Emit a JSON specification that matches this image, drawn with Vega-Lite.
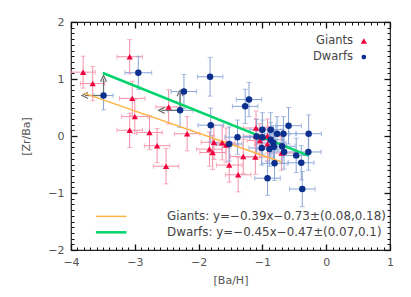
{
  "$schema": "https://vega.github.io/schema/vega-lite/v6.json",
  "width": 319,
  "height": 228,
  "autosize": {"type": "none"},
  "padding": {"left": 71, "top": 22, "right": 21, "bottom": 47},
  "config": {"view": {"stroke": "#222", "strokeWidth": 1.2}, "font": "DejaVu Sans"},
  "datasets": {
    "giants": [
      {"x": -3.81, "y": 1.12, "xe": 0.19, "ye": 0.28},
      {"x": -3.66, "y": 0.92, "xe": 0.19, "ye": 0.3},
      {"x": -3.08, "y": 1.39, "xe": 0.2, "ye": 0.3},
      {"x": -3.04, "y": 0.66, "xe": 0.2, "ye": 0.3},
      {"x": -3.0, "y": 0.34, "xe": 0.21, "ye": 0.3},
      {"x": -3.08, "y": 0.1, "xe": 0.2, "ye": 0.3},
      {"x": -2.77, "y": 0.06, "xe": 0.2, "ye": 0.3},
      {"x": -2.65, "y": -0.17, "xe": 0.2, "ye": 0.3},
      {"x": -2.51, "y": -0.53, "xe": 0.2, "ye": 0.31},
      {"x": -2.47, "y": 0.51, "xe": 0.2, "ye": 0.3},
      {"x": -2.18, "y": 0.04, "xe": 0.2, "ye": 0.3},
      {"x": -1.76, "y": -0.11, "xe": 0.2, "ye": 0.3},
      {"x": -1.83, "y": -0.23, "xe": 0.2, "ye": 0.3},
      {"x": -1.78, "y": -0.29, "xe": 0.2, "ye": 0.3},
      {"x": -1.63, "y": -0.12, "xe": 0.2, "ye": 0.3},
      {"x": -1.57, "y": -0.16, "xe": 0.2, "ye": 0.3},
      {"x": -1.52, "y": -0.51, "xe": 0.2, "ye": 0.3},
      {"x": -1.38, "y": -0.68, "xe": 0.2, "ye": 0.3},
      {"x": -1.3, "y": -0.36, "xe": 0.2, "ye": 0.3},
      {"x": -1.11, "y": -0.37, "xe": 0.2, "ye": 0.3},
      {"x": -1.04, "y": -0.08, "xe": 0.2, "ye": 0.3},
      {"x": -0.92, "y": 0.0, "xe": 0.2, "ye": 0.3},
      {"x": -1.1, "y": 0.14, "xe": 0.2, "ye": 0.3},
      {"x": -0.7, "y": -0.3, "xe": 0.2, "ye": 0.3},
      {"x": -0.92, "y": -0.14, "xe": 0.2, "ye": 0.3},
      {"x": -1.1, "y": 0.0, "xe": 0.2, "ye": 0.3}
    ],
    "dwarfs": [
      {"x": -3.49, "y": 0.71, "xe": 0.15, "ye": 0.25},
      {"x": -2.945, "y": 1.11, "xe": 0.21, "ye": 0.29},
      {"x": -2.23, "y": 0.78, "xe": 0.2, "ye": 0.3},
      {"x": -2.29, "y": 0.45, "xe": 0.2, "ye": 0.3},
      {"x": -1.82, "y": 1.04, "xe": 0.2, "ye": 0.34},
      {"x": -1.81, "y": 0.19, "xe": 0.2, "ye": 0.3},
      {"x": -1.52, "y": -0.14, "xe": 0.2, "ye": 0.3},
      {"x": -1.39, "y": -0.02, "xe": 0.2, "ye": 0.3},
      {"x": -1.21, "y": 0.64, "xe": 0.2, "ye": 0.3},
      {"x": -1.27, "y": 0.52, "xe": 0.2, "ye": 0.3},
      {"x": -0.59, "y": 0.18, "xe": 0.2, "ye": 0.32},
      {"x": -0.275, "y": 0.04, "xe": 0.2, "ye": 0.33},
      {"x": -0.28, "y": -0.28, "xe": 0.2, "ye": 0.32},
      {"x": -0.47, "y": -0.34, "xe": 0.2, "ye": 0.3},
      {"x": -0.39, "y": -0.47, "xe": 0.2, "ye": 0.3},
      {"x": -0.81, "y": -0.48, "xe": 0.2, "ye": 0.3},
      {"x": -0.92, "y": -0.74, "xe": 0.2, "ye": 0.3},
      {"x": -0.375, "y": -0.93, "xe": 0.2, "ye": 0.31},
      {"x": -1.0, "y": 0.11, "xe": 0.2, "ye": 0.3},
      {"x": -0.87, "y": 0.11, "xe": 0.2, "ye": 0.3},
      {"x": -0.77, "y": 0.04, "xe": 0.2, "ye": 0.3},
      {"x": -0.67, "y": 0.04, "xe": 0.2, "ye": 0.3},
      {"x": -0.66, "y": -0.28, "xe": 0.2, "ye": 0.3},
      {"x": -0.69, "y": -0.18, "xe": 0.2, "ye": 0.3},
      {"x": -0.82, "y": -0.19, "xe": 0.2, "ye": 0.3},
      {"x": -0.89, "y": -0.23, "xe": 0.2, "ye": 0.3},
      {"x": -0.83, "y": -0.12, "xe": 0.2, "ye": 0.3},
      {"x": -0.87, "y": -0.065, "xe": 0.2, "ye": 0.3},
      {"x": -1.09, "y": -0.01, "xe": 0.2, "ye": 0.3},
      {"x": -1.0, "y": -0.02, "xe": 0.2, "ye": 0.3},
      {"x": -1.01, "y": -0.21, "xe": 0.2, "ye": 0.3}
    ],
    "arrows": [
      {"x": -3.49, "y": 0.71, "x2": -3.49, "y2": 1.01, "dir": "up"},
      {"x": -3.49, "y": 0.71, "x2": -3.78, "y2": 0.71, "dir": "left"},
      {"x": -2.29, "y": 0.45, "x2": -2.29, "y2": 0.75, "dir": "up"},
      {"x": -2.29, "y": 0.45, "x2": -2.58, "y2": 0.45, "dir": "left"}
    ],
    "fits": [
      {"s": "Giants", "x": -3.8, "y": 0.752, "x2": -0.7, "y2": -0.457},
      {"s": "Dwarfs", "x": -3.5, "y": 1.105, "x2": -0.28, "y2": -0.344}
    ],
    "legendlines": [
      {"s": "Giants", "x": -3.61, "x2": -3.13, "y": -1.41},
      {"s": "Dwarfs", "x": -3.61, "x2": -3.13, "y": -1.69}
    ],
    "texts": [
      {"x": 0.42, "y": 1.66, "t": "Giants", "a": "right"},
      {"x": 0.42, "y": 1.385, "t": "Dwarfs", "a": "right"},
      {"x": -2.495, "y": -1.41, "t": "Giants: y=−0.39x−0.73±(0.08,0.18)", "a": "left"},
      {"x": -2.495, "y": -1.69, "t": "Dwarfs: y=−0.45x−0.47±(0.07,0.1)", "a": "left"}
    ],
    "legendsym": [
      {"x": 0.59, "y": 1.665, "s": "Giants"},
      {"x": 0.59, "y": 1.385, "s": "Dwarfs"}
    ]
  },
  "layer": [
    {
      "data": {"name": "giants"},
      "mark": {"type": "errorbar", "ticks": {"size": 5}, "color": "#f590a8", "thickness": 1},
      "encoding": {
        "x": {"field": "x", "type": "quantitative", "scale": {"domain": [-4, 1], "nice": false, "zero": false}, "axis": null},
        "y": {"field": "y", "type": "quantitative", "scale": {"domain": [-2, 2], "nice": false, "zero": false}, "axis": null},
        "yError": {"field": "ye"}
      }
    },
    {
      "data": {"name": "giants"},
      "mark": {"type": "errorbar", "ticks": {"size": 5}, "color": "#f590a8", "thickness": 1},
      "encoding": {
        "x": {"field": "x", "type": "quantitative", "axis": null},
        "xError": {"field": "xe"},
        "y": {"field": "y", "type": "quantitative", "axis": null}
      }
    },
    {
      "data": {"name": "dwarfs"},
      "mark": {"type": "errorbar", "ticks": {"size": 5}, "color": "#88a3d6", "thickness": 1},
      "encoding": {
        "x": {"field": "x", "type": "quantitative", "axis": null},
        "y": {"field": "y", "type": "quantitative", "axis": null},
        "yError": {"field": "ye"}
      }
    },
    {
      "data": {"name": "dwarfs"},
      "mark": {"type": "errorbar", "ticks": {"size": 5}, "color": "#88a3d6", "thickness": 1},
      "encoding": {
        "x": {"field": "x", "type": "quantitative", "axis": null},
        "xError": {"field": "xe"},
        "y": {"field": "y", "type": "quantitative", "axis": null}
      }
    },
    {
      "data": {"name": "arrows"},
      "mark": {"type": "rule", "color": "#6e6e6e", "strokeWidth": 1.2},
      "encoding": {
        "x": {"field": "x", "type": "quantitative", "axis": {
          "orient": "top", "title": null, "labels": false, "offset": -3,
          "values": [-3.9,-3.8,-3.7,-3.6,-3.5,-3.4,-3.3,-3.2,-3.1,-2.9,-2.8,-2.7,-2.6,-2.5,-2.4,-2.3,-2.2,-2.1,-1.9,-1.8,-1.7,-1.6,-1.5,-1.4,-1.3,-1.2,-1.1,-0.9,-0.8,-0.7,-0.6,-0.5,-0.4,-0.3,-0.2,-0.1,0.1,0.2,0.3,0.4,0.5,0.6,0.7,0.8,0.9],
          "tickSize": 3, "tickColor": "#111", "tickWidth": 1, "domain": false, "grid": false}},
        "y": {"field": "y", "type": "quantitative", "axis": {
          "orient": "right", "title": null, "labels": false, "offset": -3,
          "values": [-1.9,-1.8,-1.7,-1.6,-1.5,-1.4,-1.3,-1.2,-1.1,-0.9,-0.8,-0.7,-0.6,-0.5,-0.4,-0.3,-0.2,-0.1,0.1,0.2,0.3,0.4,0.5,0.6,0.7,0.8,0.9,1.1,1.2,1.3,1.4,1.5,1.6,1.7,1.8,1.9],
          "tickSize": 3, "tickColor": "#111", "tickWidth": 1, "domain": false, "grid": false}},
        "x2": {"field": "x2"},
        "y2": {"field": "y2"}
      }
    },
    {
      "data": {"name": "arrows"},
      "transform": [{"filter": "datum.dir === 'up'"}],
      "mark": {"type": "point", "filled": false, "color": "#6e6e6e", "strokeWidth": 1.2, "size": 36, "opacity": 1, "shape": "M -1 1 L 0 -1 L 1 1"},
      "encoding": {
        "x": {"field": "x2", "type": "quantitative", "axis": null},
        "y": {"field": "y2", "type": "quantitative", "axis": null}
      }
    },
    {
      "data": {"name": "arrows"},
      "transform": [{"filter": "datum.dir === 'left'"}],
      "mark": {"type": "point", "filled": false, "color": "#6e6e6e", "strokeWidth": 1.2, "size": 36, "opacity": 1, "shape": "M 1 -1 L -1 0 L 1 1"},
      "encoding": {
        "x": {"field": "x2", "type": "quantitative", "axis": null},
        "y": {"field": "y2", "type": "quantitative", "axis": null}
      }
    },
    {
      "data": {"name": "fits"},
      "mark": {"type": "rule"},
      "encoding": {
        "x": {"field": "x", "type": "quantitative", "axis": {
          "orient": "bottom", "title": null, "labels": false, "offset": -3,
          "values": [-3.9,-3.8,-3.7,-3.6,-3.5,-3.4,-3.3,-3.2,-3.1,-2.9,-2.8,-2.7,-2.6,-2.5,-2.4,-2.3,-2.2,-2.1,-1.9,-1.8,-1.7,-1.6,-1.5,-1.4,-1.3,-1.2,-1.1,-0.9,-0.8,-0.7,-0.6,-0.5,-0.4,-0.3,-0.2,-0.1,0.1,0.2,0.3,0.4,0.5,0.6,0.7,0.8,0.9],
          "tickSize": 3, "tickColor": "#111", "tickWidth": 1, "domain": false, "grid": false}},
        "y": {"field": "y", "type": "quantitative", "axis": {
          "orient": "left", "title": null, "labels": false, "offset": -3,
          "values": [-1.9,-1.8,-1.7,-1.6,-1.5,-1.4,-1.3,-1.2,-1.1,-0.9,-0.8,-0.7,-0.6,-0.5,-0.4,-0.3,-0.2,-0.1,0.1,0.2,0.3,0.4,0.5,0.6,0.7,0.8,0.9,1.1,1.2,1.3,1.4,1.5,1.6,1.7,1.8,1.9],
          "tickSize": 3, "tickColor": "#111", "tickWidth": 1, "domain": false, "grid": false}},
        "x2": {"field": "x2"},
        "y2": {"field": "y2"},
        "color": {"field": "s", "type": "nominal", "scale": {"domain": ["Giants", "Dwarfs"], "range": ["#ffb347", "#00d46a"]}, "legend": null},
        "strokeWidth": {"field": "s", "type": "nominal", "scale": {"domain": ["Giants", "Dwarfs"], "range": [1.5, 2.5]}, "legend": null}
      }
    },
    {
      "data": {"name": "giants"},
      "mark": {"type": "point", "shape": "triangle-up", "filled": true, "color": "#f0003c", "size": 40, "opacity": 1},
      "encoding": {
        "x": {"field": "x", "type": "quantitative", "axis": {
          "orient": "bottom", "title": "[Ba/H]", "offset": -6,
          "values": [-4, -3, -2, -1, 0, 1], "format": "d",
          "tickSize": 6, "tickColor": "#111", "tickWidth": 1.3, "domain": false, "grid": false,
          "labelColor": "#555", "labelFontSize": 11, "labelFont": "DejaVu Sans", "labelPadding": 6, "labelOverlap": false, "labelFlush": false,
          "titleColor": "#555", "titleFontSize": 11, "titleFontWeight": "normal", "titleFont": "DejaVu Sans", "titlePadding": 7
        }},
        "y": {"field": "y", "type": "quantitative", "axis": {
          "orient": "left", "title": "[Zr/Ba]", "offset": -6,
          "values": [-2, -1, 0, 1, 2], "format": "d",
          "tickSize": 6, "tickColor": "#111", "tickWidth": 1.3, "domain": false, "grid": false,
          "labelColor": "#555", "labelFontSize": 11, "labelFont": "DejaVu Sans", "labelPadding": 7, "labelOverlap": false, "labelFlush": false,
          "titleColor": "#555", "titleFontSize": 11, "titleFontWeight": "normal", "titleFont": "DejaVu Sans", "titlePadding": 16
        }}
      }
    },
    {
      "data": {"name": "dwarfs"},
      "mark": {"type": "circle", "color": "#0b2f8c", "size": 42, "opacity": 1},
      "encoding": {
        "x": {"field": "x", "type": "quantitative", "axis": {
          "orient": "top", "title": null, "labels": false, "offset": -6,
          "values": [-4, -3, -2, -1, 0, 1],
          "tickSize": 6, "tickColor": "#111", "tickWidth": 1.3, "domain": false, "grid": false
        }},
        "y": {"field": "y", "type": "quantitative", "axis": {
          "orient": "right", "title": null, "labels": false, "offset": -6,
          "values": [-2, -1, 0, 1, 2],
          "tickSize": 6, "tickColor": "#111", "tickWidth": 1.3, "domain": false, "grid": false
        }}
      }
    },
    {
      "data": {"name": "legendlines"},
      "mark": {"type": "rule"},
      "encoding": {
        "x": {"field": "x", "type": "quantitative", "axis": null},
        "x2": {"field": "x2"},
        "y": {"field": "y", "type": "quantitative", "axis": null},
        "color": {"field": "s", "type": "nominal", "scale": {"domain": ["Giants", "Dwarfs"], "range": ["#ffb347", "#00d46a"]}, "legend": null},
        "strokeWidth": {"field": "s", "type": "nominal", "scale": {"domain": ["Giants", "Dwarfs"], "range": [1.5, 2.5]}, "legend": null}
      }
    },
    {
      "data": {"name": "texts"},
      "transform": [{"filter": "datum.a === 'right'"}],
      "mark": {"type": "text", "font": "DejaVu Sans", "fontSize": 11.5, "color": "#444", "baseline": "middle", "align": "right"},
      "encoding": {
        "x": {"field": "x", "type": "quantitative", "axis": null},
        "y": {"field": "y", "type": "quantitative", "axis": null},
        "text": {"field": "t"}
      }
    },
    {
      "data": {"name": "texts"},
      "transform": [{"filter": "datum.a === 'left'"}],
      "mark": {"type": "text", "font": "DejaVu Sans", "fontSize": 11.9, "color": "#444", "baseline": "middle", "align": "left"},
      "encoding": {
        "x": {"field": "x", "type": "quantitative", "axis": null},
        "y": {"field": "y", "type": "quantitative", "axis": null},
        "text": {"field": "t"}
      }
    },
    {
      "data": {"name": "legendsym"},
      "transform": [{"filter": "datum.s === 'Giants'"}],
      "mark": {"type": "point", "shape": "triangle-up", "filled": true, "color": "#f0003c", "size": 40, "opacity": 1},
      "encoding": {
        "x": {"field": "x", "type": "quantitative", "axis": null},
        "y": {"field": "y", "type": "quantitative", "axis": null}
      }
    },
    {
      "data": {"name": "legendsym"},
      "transform": [{"filter": "datum.s === 'Dwarfs'"}],
      "mark": {"type": "circle", "color": "#0b2f8c", "size": 22, "opacity": 1},
      "encoding": {
        "x": {"field": "x", "type": "quantitative", "axis": null},
        "y": {"field": "y", "type": "quantitative", "axis": null}
      }
    }
  ],
  "resolve": {"axis": {"x": "independent", "y": "independent"}}
}
